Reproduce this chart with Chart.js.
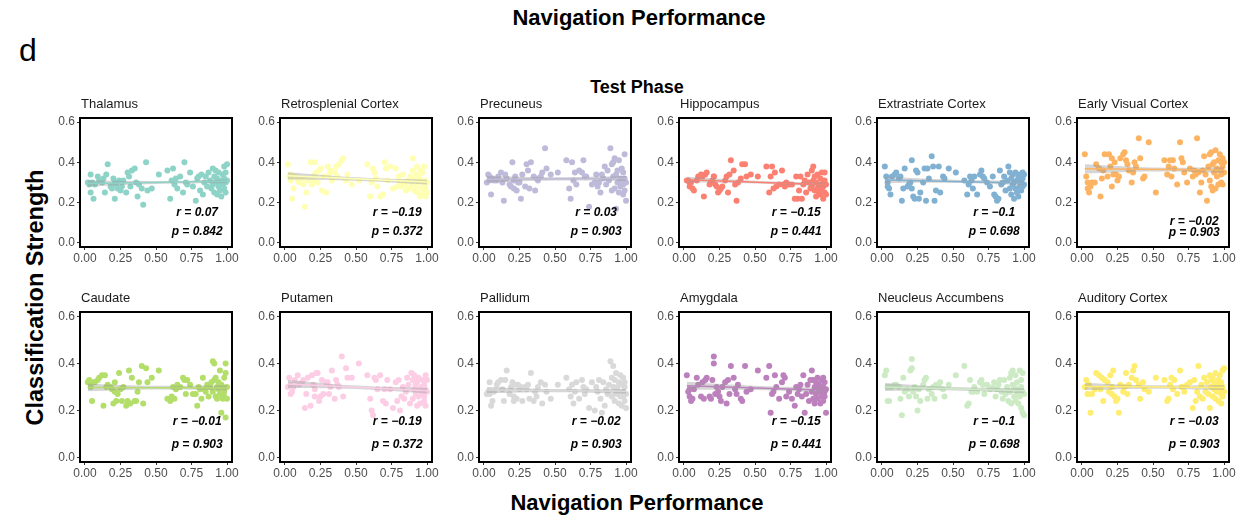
<!DOCTYPE html>
<html>
<head>
<meta charset="utf-8">
<script src="https://cdn.jsdelivr.net/npm/chart.js@4.4.1/dist/chart.umd.min.js"></script>
<style>
  body { margin: 0; background: #fff; font-family: "Liberation Sans", Arial, sans-serif; }
  #wrap { position: relative; width: 1238px; height: 529px; overflow: hidden; }
  #wrap canvas { position: absolute; }
  .lbl { position: absolute; color: #000; white-space: nowrap; }
  .big { font-weight: bold; font-size: 22px; width: 600px; text-align: center; }
</style>
</head>
<body>
<div id="wrap">
  <div class="lbl big" style="left:339px;top:5px;">Navigation Performance</div>
  <div class="lbl" style="left:19px;top:32px;font-size:32px;">d</div>
  <div class="lbl" style="left:487px;top:77px;width:300px;text-align:center;font-weight:bold;font-size:18px;">Test Phase</div>
  <div class="lbl big" style="left:-265px;top:284px;transform:rotate(-90deg);font-size:23.5px;">Classification Strength</div>
  <div class="lbl big" style="left:337px;top:490px;">Navigation Performance</div>
</div>
<script>
// navigation performance (shared x for every region)
const navPerf = [
  0.02, 0.03, 0.04, 0.04, 0.05, 0.06, 0.07, 0.09, 0.10, 0.12,
  0.13, 0.14, 0.15, 0.16, 0.18, 0.19, 0.20, 0.21, 0.21, 0.22,
  0.23, 0.24, 0.25, 0.26, 0.27, 0.29, 0.30, 0.31, 0.32, 0.33,
  0.35, 0.36, 0.37, 0.38, 0.40, 0.41, 0.43, 0.44, 0.47, 0.52,
  0.58, 0.60, 0.61, 0.62, 0.63, 0.64, 0.65, 0.67, 0.69, 0.70,
  0.71, 0.72, 0.74, 0.76, 0.78, 0.79, 0.80, 0.81, 0.82, 0.83,
  0.84, 0.85, 0.86, 0.87, 0.88, 0.89, 0.90, 0.90, 0.91, 0.91,
  0.92, 0.92, 0.93, 0.93, 0.94, 0.94, 0.95, 0.95, 0.96, 0.96,
  0.97, 0.97, 0.98, 0.98, 0.98, 0.99, 0.99, 0.99, 1.00, 1.00
];

const thalamus = [
  0.30, 0.29, 0.34, 0.25, 0.30, 0.22, 0.29, 0.33, 0.31, 0.30,
  0.32, 0.25, 0.34, 0.39, 0.28, 0.27, 0.32, 0.22, 0.30, 0.29,
  0.27, 0.31, 0.26, 0.28, 0.31, 0.25, 0.35, 0.33, 0.28, 0.36,
  0.37, 0.30, 0.23, 0.29, 0.27, 0.19, 0.40, 0.26, 0.27, 0.34,
  0.36, 0.22, 0.31, 0.37, 0.29, 0.32, 0.27, 0.33, 0.25, 0.40,
  0.30, 0.29, 0.35, 0.28, 0.21, 0.32, 0.33, 0.26, 0.34, 0.24,
  0.30, 0.33, 0.28, 0.35, 0.31, 0.27, 0.37, 0.29, 0.25, 0.33,
  0.30, 0.36, 0.24, 0.32, 0.28, 0.35, 0.30, 0.26, 0.31, 0.23,
  0.34, 0.29, 0.38, 0.27, 0.32, 0.30, 0.25, 0.35, 0.39, 0.31
];
const retrosplenial = [
  0.39, 0.33, 0.31, 0.34, 0.22, 0.27, 0.33, 0.31, 0.30, 0.32,
  0.29, 0.18, 0.25, 0.31, 0.40, 0.29, 0.31, 0.40, 0.34, 0.35,
  0.30, 0.36, 0.37, 0.26, 0.33, 0.25, 0.38, 0.34, 0.36, 0.31,
  0.35, 0.38, 0.33, 0.39, 0.41, 0.42, 0.31, 0.34, 0.29, 0.31,
  0.39, 0.23, 0.30, 0.37, 0.35, 0.32, 0.28, 0.23, 0.24, 0.40,
  0.37, 0.31, 0.38, 0.27, 0.37, 0.28, 0.33, 0.30, 0.28, 0.34,
  0.29, 0.26, 0.31, 0.27, 0.33, 0.29, 0.42, 0.36, 0.26, 0.32,
  0.34, 0.28, 0.38, 0.25, 0.30, 0.33, 0.23, 0.36, 0.27, 0.31,
  0.24, 0.35, 0.29, 0.26, 0.38, 0.23, 0.31, 0.27, 0.30, 0.25
];
const precuneus = [
  0.30, 0.34, 0.31, 0.33, 0.24, 0.32, 0.31, 0.31, 0.33, 0.35,
  0.30, 0.21, 0.34, 0.32, 0.29, 0.28, 0.40, 0.31, 0.27, 0.33,
  0.26, 0.30, 0.30, 0.22, 0.34, 0.28, 0.39, 0.36, 0.27, 0.40,
  0.33, 0.26, 0.32, 0.31, 0.33, 0.35, 0.47, 0.37, 0.34, 0.35,
  0.41, 0.27, 0.22, 0.40, 0.31, 0.35, 0.29, 0.36, 0.35, 0.41,
  0.33, 0.33, 0.18, 0.29, 0.30, 0.34, 0.28, 0.30, 0.25, 0.34,
  0.32, 0.38, 0.29, 0.36, 0.31, 0.47, 0.26, 0.39, 0.33, 0.40,
  0.27, 0.42, 0.17, 0.34, 0.30, 0.36, 0.25, 0.41, 0.32, 0.28,
  0.37, 0.31, 0.24, 0.35, 0.29, 0.44, 0.32, 0.26, 0.21, 0.30
];
const hippocampus = [
  0.31, 0.31, 0.30, 0.28, 0.30, 0.27, 0.26, 0.31, 0.33, 0.34,
  0.33, 0.23, 0.34, 0.35, 0.29, 0.30, 0.31, 0.33, 0.33, 0.29,
  0.28, 0.25, 0.26, 0.27, 0.28, 0.31, 0.33, 0.25, 0.34, 0.41,
  0.36, 0.29, 0.21, 0.30, 0.32, 0.39, 0.39, 0.33, 0.34, 0.33,
  0.38, 0.25, 0.33, 0.38, 0.27, 0.35, 0.28, 0.29, 0.36, 0.29,
  0.28, 0.30, 0.29, 0.29, 0.22, 0.33, 0.22, 0.26, 0.33, 0.22,
  0.29, 0.31, 0.25, 0.34, 0.30, 0.27, 0.36, 0.28, 0.38, 0.31,
  0.26, 0.33, 0.23, 0.30, 0.27, 0.34, 0.25, 0.29, 0.32, 0.24,
  0.35, 0.27, 0.30, 0.22, 0.28, 0.35, 0.25, 0.31, 0.29, 0.24
];
const extrastriate = [
  0.38, 0.33, 0.30, 0.28, 0.27, 0.24, 0.33, 0.34, 0.35, 0.32,
  0.33, 0.21, 0.27, 0.37, 0.28, 0.29, 0.30, 0.27, 0.41, 0.23,
  0.22, 0.36, 0.35, 0.22, 0.25, 0.30, 0.37, 0.21, 0.37, 0.32,
  0.43, 0.38, 0.21, 0.26, 0.38, 0.25, 0.33, 0.32, 0.37, 0.35,
  0.31, 0.24, 0.29, 0.33, 0.31, 0.27, 0.33, 0.24, 0.34, 0.36,
  0.33, 0.32, 0.30, 0.28, 0.33, 0.24, 0.23, 0.21, 0.22, 0.36,
  0.29, 0.30, 0.33, 0.26, 0.31, 0.38, 0.27, 0.35, 0.24, 0.32,
  0.29, 0.34, 0.22, 0.30, 0.27, 0.35, 0.25, 0.31, 0.33, 0.23,
  0.28, 0.34, 0.30, 0.26, 0.31, 0.35, 0.28, 0.32, 0.29, 0.34
];
const earlyVisual = [
  0.44, 0.33, 0.30, 0.27, 0.25, 0.28, 0.30, 0.30, 0.39, 0.37,
  0.23, 0.32, 0.36, 0.44, 0.33, 0.44, 0.38, 0.42, 0.28, 0.34,
  0.40, 0.34, 0.31, 0.33, 0.42, 0.44, 0.45, 0.41, 0.39, 0.36,
  0.30, 0.35, 0.40, 0.38, 0.52, 0.42, 0.32, 0.33, 0.50, 0.25,
  0.41, 0.34, 0.38, 0.41, 0.33, 0.41, 0.37, 0.29, 0.50, 0.42,
  0.40, 0.35, 0.30, 0.37, 0.33, 0.36, 0.34, 0.52, 0.35, 0.25,
  0.30, 0.36, 0.43, 0.34, 0.21, 0.38, 0.44, 0.31, 0.28, 0.45,
  0.39, 0.26, 0.35, 0.40, 0.27, 0.46, 0.33, 0.37, 0.29, 0.41,
  0.36, 0.44, 0.30, 0.40, 0.34, 0.38, 0.29, 0.42, 0.35, 0.40
];
const caudate = [
  0.32, 0.33, 0.32, 0.30, 0.24, 0.32, 0.32, 0.33, 0.34, 0.35,
  0.22, 0.35, 0.30, 0.31, 0.30, 0.29, 0.23, 0.28, 0.32, 0.24,
  0.27, 0.36, 0.29, 0.24, 0.30, 0.22, 0.24, 0.37, 0.23, 0.34,
  0.24, 0.24, 0.28, 0.32, 0.39, 0.23, 0.38, 0.32, 0.34, 0.37,
  0.25, 0.24, 0.26, 0.30, 0.25, 0.29, 0.31, 0.30, 0.34, 0.33,
  0.27, 0.33, 0.31, 0.27, 0.27, 0.22, 0.30, 0.29, 0.25, 0.34,
  0.29, 0.28, 0.31, 0.26, 0.30, 0.32, 0.41, 0.28, 0.33, 0.40,
  0.26, 0.34, 0.30, 0.25, 0.32, 0.29, 0.37, 0.27, 0.31, 0.19,
  0.30, 0.25, 0.34, 0.28, 0.26, 0.40, 0.17, 0.36, 0.30, 0.25
];
const putamen = [
  0.30, 0.34, 0.27, 0.31, 0.28, 0.30, 0.33, 0.35, 0.31, 0.32,
  0.33, 0.21, 0.27, 0.34, 0.22, 0.35, 0.31, 0.26, 0.29, 0.36,
  0.36, 0.24, 0.26, 0.33, 0.27, 0.32, 0.32, 0.27, 0.30, 0.37,
  0.25, 0.33, 0.31, 0.30, 0.43, 0.26, 0.38, 0.34, 0.34, 0.40,
  0.35, 0.25, 0.20, 0.18, 0.34, 0.33, 0.29, 0.35, 0.24, 0.29,
  0.23, 0.33, 0.29, 0.21, 0.32, 0.24, 0.33, 0.20, 0.26, 0.30,
  0.25, 0.28, 0.34, 0.31, 0.23, 0.36, 0.25, 0.33, 0.29, 0.35,
  0.27, 0.31, 0.22, 0.32, 0.26, 0.34, 0.29, 0.23, 0.30, 0.27,
  0.33, 0.28, 0.24, 0.31, 0.26, 0.35, 0.29, 0.22, 0.28, 0.33
];
const pallidum = [
  0.27, 0.28, 0.32, 0.27, 0.22, 0.24, 0.28, 0.31, 0.32, 0.33,
  0.29, 0.24, 0.33, 0.37, 0.27, 0.30, 0.32, 0.24, 0.26, 0.31,
  0.25, 0.31, 0.29, 0.30, 0.24, 0.30, 0.29, 0.31, 0.25, 0.36,
  0.24, 0.28, 0.26, 0.30, 0.32, 0.23, 0.31, 0.28, 0.25, 0.31,
  0.34, 0.29, 0.26, 0.31, 0.23, 0.28, 0.32, 0.25, 0.33, 0.30,
  0.27, 0.29, 0.21, 0.32, 0.20, 0.30, 0.28, 0.33, 0.25, 0.19,
  0.32, 0.22, 0.29, 0.27, 0.31, 0.41, 0.26, 0.34, 0.30, 0.39,
  0.24, 0.33, 0.27, 0.36, 0.30, 0.28, 0.32, 0.23, 0.35, 0.26,
  0.31, 0.22, 0.34, 0.28, 0.26, 0.32, 0.24, 0.30, 0.27, 0.21
];
const amygdala = [
  0.35, 0.28, 0.26, 0.29, 0.24, 0.25, 0.29, 0.34, 0.31, 0.26,
  0.32, 0.25, 0.33, 0.34, 0.26, 0.25, 0.33, 0.43, 0.40, 0.27,
  0.30, 0.28, 0.26, 0.24, 0.30, 0.32, 0.23, 0.33, 0.27, 0.39,
  0.34, 0.29, 0.27, 0.31, 0.25, 0.24, 0.39, 0.28, 0.29, 0.37,
  0.34, 0.39, 0.19, 0.27, 0.28, 0.35, 0.30, 0.25, 0.32, 0.35,
  0.34, 0.26, 0.28, 0.25, 0.22, 0.30, 0.27, 0.29, 0.31, 0.26,
  0.35, 0.19, 0.27, 0.31, 0.24, 0.33, 0.37, 0.28, 0.25, 0.33,
  0.30, 0.23, 0.32, 0.27, 0.34, 0.25, 0.29, 0.31, 0.23, 0.28,
  0.33, 0.26, 0.30, 0.24, 0.34, 0.28, 0.26, 0.32, 0.29, 0.19
];
const accumbens = [
  0.35, 0.37, 0.24, 0.30, 0.24, 0.30, 0.30, 0.31, 0.31, 0.30,
  0.25, 0.18, 0.34, 0.28, 0.29, 0.26, 0.37, 0.42, 0.38, 0.28,
  0.30, 0.26, 0.20, 0.29, 0.24, 0.31, 0.33, 0.34, 0.25, 0.29,
  0.27, 0.30, 0.25, 0.31, 0.30, 0.32, 0.29, 0.26, 0.31, 0.35,
  0.39, 0.22, 0.23, 0.33, 0.28, 0.28, 0.30, 0.28, 0.32, 0.33,
  0.31, 0.27, 0.31, 0.29, 0.30, 0.32, 0.26, 0.29, 0.31, 0.33,
  0.28, 0.25, 0.33, 0.27, 0.30, 0.24, 0.34, 0.28, 0.36, 0.23,
  0.31, 0.37, 0.26, 0.30, 0.24, 0.35, 0.27, 0.32, 0.23, 0.29,
  0.37, 0.26, 0.30, 0.21, 0.33, 0.28, 0.19, 0.36, 0.27, 0.18
];
const auditory = [
  0.30, 0.33, 0.27, 0.27, 0.31, 0.19, 0.27, 0.29, 0.36, 0.35,
  0.29, 0.34, 0.24, 0.33, 0.32, 0.28, 0.35, 0.30, 0.27, 0.37,
  0.26, 0.24, 0.25, 0.19, 0.31, 0.28, 0.30, 0.36, 0.27, 0.31,
  0.34, 0.37, 0.39, 0.33, 0.31, 0.25, 0.32, 0.29, 0.28, 0.34,
  0.33, 0.24, 0.25, 0.31, 0.34, 0.29, 0.33, 0.27, 0.37, 0.30,
  0.30, 0.28, 0.31, 0.32, 0.21, 0.33, 0.24, 0.28, 0.39, 0.26,
  0.31, 0.25, 0.34, 0.28, 0.32, 0.27, 0.35, 0.21, 0.30, 0.33,
  0.26, 0.34, 0.29, 0.32, 0.25, 0.36, 0.28, 0.31, 0.24, 0.33,
  0.29, 0.35, 0.27, 0.23, 0.32, 0.37, 0.26, 0.30, 0.38, 0.28
];

const regions = ["Thalamus", "Retrosplenial Cortex", "Precuneus", "Hippocampus", "Extrastriate Cortex", "Early Visual Cortex",
                 "Caudate", "Putamen", "Pallidum", "Amygdala", "Neucleus Accumbens", "Auditory Cortex"];
const strength = [thalamus, retrosplenial, precuneus, hippocampus, extrastriate, earlyVisual,
                  caudate, putamen, pallidum, amygdala, accumbens, auditory];
const colors = ["#8DD3C7", "#FFFFB3", "#BEBADA", "#FB8072", "#80B1D3", "#FDB462",
                "#B3DE69", "#FCCDE5", "#D9D9D9", "#BC80BD", "#CCEBC5", "#FFED6F"];
const rValues = ["0.07", "\u22120.19", "0.03", "\u22120.15", "\u22120.1", "\u22120.02",
                 "\u22120.01", "\u22120.19", "\u22120.02", "\u22120.15", "\u22120.1", "\u22120.03"];
const pValues = ["0.842", "0.372", "0.903", "0.441", "0.698", "0.903",
                 "0.903", "0.372", "0.903", "0.441", "0.698", "0.903"];

// fitted line (at x = 0.02 and 1.00) and its confidence band
const fitX = [0.02, 1.0];
const fitLine = [
  [0.295, 0.306], [0.333, 0.302], [0.316, 0.320], [0.314, 0.289], [0.313, 0.298], [0.368, 0.362],
  [0.298, 0.296], [0.313, 0.284], [0.287, 0.282], [0.305, 0.286], [0.300, 0.284], [0.302, 0.298]
];
const bandX = [0.02, 0.5, 1.0];
const bandLow = [
  [0.279, 0.292, 0.297], [0.315, 0.309, 0.290], [0.300, 0.310, 0.308], [0.300, 0.295, 0.279],
  [0.298, 0.298, 0.288], [0.345, 0.355, 0.348], [0.282, 0.289, 0.285], [0.296, 0.291, 0.272],
  [0.274, 0.278, 0.272], [0.288, 0.287, 0.275], [0.283, 0.285, 0.273], [0.287, 0.293, 0.287]
];
const bandHigh = [
  [0.311, 0.307, 0.315], [0.351, 0.326, 0.314], [0.332, 0.326, 0.332], [0.328, 0.309, 0.299],
  [0.328, 0.314, 0.308], [0.391, 0.375, 0.376], [0.314, 0.305, 0.307], [0.330, 0.306, 0.296],
  [0.300, 0.291, 0.292], [0.322, 0.305, 0.297], [0.317, 0.300, 0.295], [0.317, 0.307, 0.309]
];

const xTicks = [0, 0.25, 0.5, 0.75, 1];
const yTicks = [0, 0.2, 0.4, 0.6];

Chart.defaults.font.family = '"Liberation Sans", Arial, sans-serif';

const boxLefts = [80, 280, 479, 679, 877, 1077];
const boxW = 152;
const rows = [{ top: 118, h: 129 }, { top: 312, h: 150 }];
const AXIS_W = 32, AXIS_H = 24, PAD_TOP = 22, PAD_RIGHT = 8;

function decor(i) {
  return {
    id: 'decor' + i,
    afterDatasetsDraw(chart) {
      const { ctx, chartArea: a, scales: { x, y } } = chart;
      ctx.save();
      ctx.strokeStyle = '#000';
      ctx.lineWidth = 2;
      ctx.strokeRect(a.left, a.top, a.right - a.left, a.bottom - a.top);
      ctx.fillStyle = '#1a1a1a';
      ctx.font = '13px "Liberation Sans", Arial, sans-serif';
      ctx.textAlign = 'left';
      ctx.textBaseline = 'alphabetic';
      ctx.fillText(regions[i], a.left + 1, a.top - 10);
      ctx.fillStyle = '#000';
      ctx.font = 'italic bold 12px "Liberation Sans", Arial, sans-serif';
      ctx.textAlign = 'center';
      ctx.textBaseline = 'middle';
      const rY = i === 5 ? 0.105 : 0.15;
      const pY = i === 5 ? 0.05 : 0.055;
      const cx = x.getPixelForValue(0.79);
      ctx.fillText('r = ' + rValues[i], cx, y.getPixelForValue(rY));
      ctx.fillText('p = ' + pValues[i], cx, y.getPixelForValue(pY));
      ctx.restore();
    }
  };
}

const wrap = document.getElementById('wrap');

regions.forEach((name, i) => {
  const row = rows[Math.floor(i / 6)];
  const col = i % 6;
  const cv = document.createElement('canvas');
  const w = AXIS_W + boxW + PAD_RIGHT;
  const h = PAD_TOP + row.h + AXIS_H;
  cv.width = w;
  cv.height = h;
  cv.style.left = (boxLefts[col] - AXIS_W) + 'px';
  cv.style.top = (row.top - PAD_TOP) + 'px';
  wrap.appendChild(cv);

  const pts = navPerf.map((v, k) => ({ x: v, y: strength[i][k] }));

  new Chart(cv.getContext('2d'), {
    type: 'scatter',
    data: {
      datasets: [
        {
          type: 'line',
          data: fitX.map((v, k) => ({ x: v, y: fitLine[i][k] })),
          borderColor: colors[i],
          borderWidth: 1.5,
          pointRadius: 0,
          fill: false,
          order: 1
        },
        {
          type: 'line',
          data: bandX.map((v, k) => ({ x: v, y: bandHigh[i][k] })),
          borderWidth: 0,
          borderColor: 'rgba(0,0,0,0)',
          pointRadius: 0,
          tension: 0.4,
          fill: false,
          order: 2
        },
        {
          type: 'line',
          data: bandX.map((v, k) => ({ x: v, y: bandLow[i][k] })),
          borderWidth: 0,
          borderColor: 'rgba(0,0,0,0)',
          backgroundColor: 'rgba(153,153,153,0.4)',
          pointRadius: 0,
          tension: 0.4,
          fill: '-1',
          order: 2
        },
        {
          data: pts,
          backgroundColor: colors[i],
          borderWidth: 0,
          pointRadius: 3,
          order: 3
        }
      ]
    },
    options: {
      responsive: false,
      animation: false,
      devicePixelRatio: 1,
      layout: { padding: { top: PAD_TOP, right: PAD_RIGHT, left: 0, bottom: 0 } },
      plugins: { legend: { display: false }, tooltip: { enabled: false } },
      scales: {
        x: {
          type: 'linear',
          min: -0.035,
          max: 1.035,
          afterBuildTicks: s => { s.ticks = xTicks.map(v => ({ value: v })); },
          afterFit: s => { s.height = AXIS_H; },
          ticks: {
            color: '#4D4D4D',
            font: { size: 12 },
            padding: 1,
            maxRotation: 0,
            autoSkip: false,
            callback: v => v.toFixed(2)
          },
          grid: { drawOnChartArea: false, drawTicks: true, tickLength: 3, color: '#333' },
          border: { display: false }
        },
        y: {
          type: 'linear',
          min: -0.02,
          max: 0.62,
          afterBuildTicks: s => { s.ticks = yTicks.map(v => ({ value: v })); },
          afterFit: s => { s.width = AXIS_W; },
          ticks: {
            color: '#4D4D4D',
            font: { size: 12 },
            padding: 2,
            autoSkip: false,
            callback: v => v.toFixed(1)
          },
          grid: { drawOnChartArea: false, drawTicks: true, tickLength: 3, color: '#333' },
          border: { display: false }
        }
      }
    },
    plugins: [decor(i)]
  });
});
</script>
</body>
</html>
